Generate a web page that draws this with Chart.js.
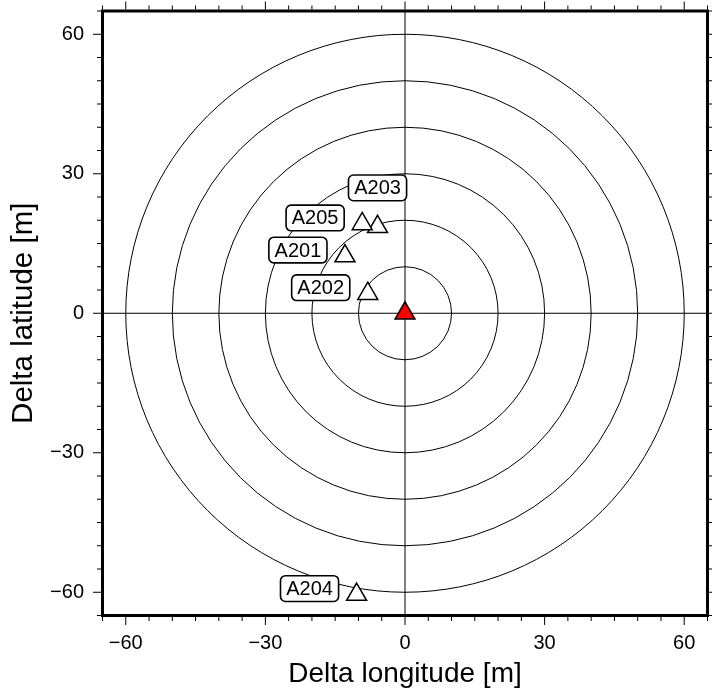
<!DOCTYPE html>
<html>
<head>
<meta charset="utf-8">
<script src="https://cdn.jsdelivr.net/npm/chart.js@4.4.1/dist/chart.umd.min.js"></script>
<style>
  html, body { margin: 0; padding: 0; background: #fff; }
  #wrap { width: 712px; height: 693px; }
</style>
</head>
<body>
<div id="wrap"><canvas id="chart"></canvas></div>
<script>
// station offsets relative to the reference point (metres)
const stations = ["A201", "A202", "A203", "A204", "A205"];
const deltaLon = [-12.9, -8.0, -5.9, -10.4, -9.2];
const deltaLat = [12.3, 4.2, 18.6, -60.5, 19.2];
const labelSide = ["left", "left", "top", "left", "left"];

const refLon = [0];
const refLat = [0];

const ringRadii = [10, 20, 30, 40, 50, 60];
const majorTicks = [-60, -30, 0, 30, 60];
const axisMin = -65;
const axisMax = 65;
const minorStep = 5;

const FONT = "'Liberation Sans', Arial, Helvetica, sans-serif";

function fmt(v) {
    return v < 0 ? "\u2212" + Math.abs(v) : String(v);
}

function roundRect(ctx, x, y, w, h, r) {
    ctx.beginPath();
    ctx.moveTo(x + r, y);
    ctx.arcTo(x + w, y, x + w, y + h, r);
    ctx.arcTo(x + w, y + h, x, y + h, r);
    ctx.arcTo(x, y + h, x, y, r);
    ctx.arcTo(x, y, x + w, y, r);
    ctx.closePath();
}

// keep the plot frame where the reference has it
function noPad(s) {
    s.paddingTop = 0;
    s.paddingBottom = 0;
    s.paddingLeft = 0;
    s.paddingRight = 0;
}

// rings, crosshair and station labels under the symbols
const backdrop = {
    id: "backdrop",
    beforeDatasetsDraw(chart) {
        const { ctx, chartArea: a, scales: { x, y } } = chart;
        const cx = x.getPixelForValue(0);
        const cy = y.getPixelForValue(0);
        ctx.save();
        ctx.strokeStyle = "#000";
        ctx.lineWidth = 1;
        ringRadii.forEach(r => {
            const rx = x.getPixelForValue(r) - cx;
            const ry = cy - y.getPixelForValue(r);
            ctx.beginPath();
            ctx.ellipse(cx, cy, rx, ry, 0, 0, Math.PI * 2);
            ctx.stroke();
        });
        ctx.beginPath();
        ctx.moveTo(a.left, cy); ctx.lineTo(a.right, cy);
        ctx.moveTo(cx, a.top); ctx.lineTo(cx, a.bottom);
        ctx.stroke();

        ctx.font = "20px " + FONT;
        ctx.textAlign = "center";
        ctx.textBaseline = "middle";
        stations.forEach((name, i) => {
            const px = x.getPixelForValue(deltaLon[i]);
            const py = y.getPixelForValue(deltaLat[i]);
            const w = ctx.measureText(name).width + 11.4;
            const h = 25.7;
            let bx, by;
            if (labelSide[i] === "top") {
                bx = px - w / 2;
                by = py - 26 - h;
            } else {
                bx = px - 18 - w;
                by = py - 6 - h / 2;
            }
            roundRect(ctx, bx, by, w, h, 5);
            ctx.fillStyle = "#fff";
            ctx.fill();
            ctx.lineWidth = 1.6;
            ctx.stroke();
            ctx.fillStyle = "#000";
            ctx.fillText(name, bx + w / 2, by + h / 2 + 1);
        });
        ctx.restore();
    },
    afterDraw(chart) {
        const { ctx, chartArea: a, scales: { x, y } } = chart;
        ctx.save();
        ctx.strokeStyle = "#000";
        ctx.lineWidth = 1;
        ctx.beginPath();
        for (let v = axisMin; v <= axisMax; v += minorStep) {
            const len = v % 30 === 0 ? 8 : 4;
            const px = x.getPixelForValue(v);
            const py = y.getPixelForValue(v);
            ctx.moveTo(px, a.bottom + 1.5); ctx.lineTo(px, a.bottom + 1.5 + len);
            ctx.moveTo(px, a.top - 1.5); ctx.lineTo(px, a.top - 1.5 - len);
            ctx.moveTo(a.left - 1.5, py); ctx.lineTo(a.left - 1.5 - len, py);
            ctx.moveTo(a.right + 1.5, py); ctx.lineTo(a.right + 1.5 + len, py);
        }
        ctx.stroke();
        ctx.lineWidth = 3;
        ctx.strokeRect(a.left, a.top, a.right - a.left, a.bottom - a.top);
        ctx.restore();
    }
};

new Chart(document.getElementById("chart"), {
    type: "scatter",
    data: {
        datasets: [
            {
                data: stations.map((s, i) => ({ x: deltaLon[i], y: deltaLat[i] })),
                pointStyle: "triangle",
                pointRadius: 11.5,
                backgroundColor: "#fff",
                borderColor: "#000",
                borderWidth: 1.5,
            },
            {
                data: refLon.map((v, i) => ({ x: v, y: refLat[i] })),
                pointStyle: "triangle",
                pointRadius: 11.5,
                backgroundColor: "#ff0000",
                borderColor: "#000",
                borderWidth: 1.5,
            },
        ],
    },
    options: {
        responsive: true,
        maintainAspectRatio: false,
        animation: false,
        events: [],
        layout: { autoPadding: false, padding: { top: 11, right: 4.5, left: 0, bottom: 0 } },
        plugins: { legend: { display: false }, tooltip: { enabled: false } },
        scales: {
            x: {
                type: "linear",
                min: axisMin,
                max: axisMax,
                afterBuildTicks: s => { s.ticks = majorTicks.map(v => ({ value: v })); },
                afterFit: s => { s.height = 77.5; noPad(s); },
                grid: { display: false, drawTicks: false },
                border: { display: false },
                ticks: {
                    callback: fmt,
                    color: "#000",
                    padding: 16,
                    maxRotation: 0,
                    autoSkip: false,
                    font: { family: FONT, size: 20 },
                },
                title: {
                    display: true,
                    text: "Delta longitude [m]",
                    color: "#000",
                    font: { family: FONT, size: 28 },
                    padding: { top: 0, bottom: 2 },
                },
            },
            y: {
                type: "linear",
                min: axisMin,
                max: axisMax,
                afterBuildTicks: s => { s.ticks = majorTicks.map(v => ({ value: v })); },
                afterFit: s => { s.width = 102.5; noPad(s); },
                grid: { display: false, drawTicks: false },
                border: { display: false },
                ticks: {
                    callback: fmt,
                    color: "#000",
                    padding: 18.5,
                    autoSkip: false,
                    font: { family: FONT, size: 20 },
                },
                title: {
                    display: true,
                    text: "Delta latitude [m]",
                    color: "#000",
                    font: { family: FONT, size: 29.5 },
                    padding: { top: 6, bottom: 0 },
                },
            },
        },
    },
    plugins: [backdrop],
});
</script>
</body>
</html>
